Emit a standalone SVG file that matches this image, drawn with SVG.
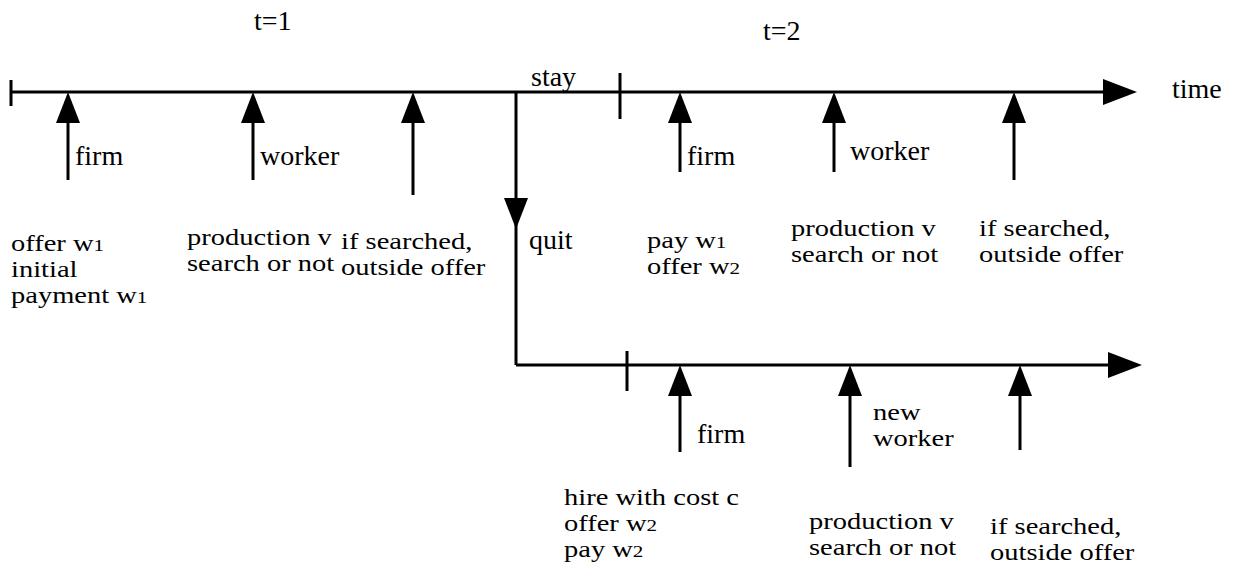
<svg xmlns="http://www.w3.org/2000/svg" width="1233" height="568" viewBox="0 0 1233 568">
<style>
.ln{stroke:#000;stroke-width:3;fill:none}
.ah{fill:#000;stroke:none}
text{font-family:"Liberation Serif","Times New Roman",serif;font-size:28px;fill:#000}
.m{font-size:23px}
.s{font-size:17px}
.s2{font-size:20px}
</style>
<defs>
<path id="up" class="ah" d="M0,0 L12,31 L-12,31 Z"/>
</defs>
<rect width="1233" height="568" fill="#fff"/>
<g id="connectors">
<line class="ln" x1="11" y1="92" x2="1106" y2="92"/>
<polygon class="ah" points="1103,79 1137,92 1103,105"/>
<line class="ln" x1="11" y1="80" x2="11" y2="106"/>
<line class="ln" x1="620" y1="73" x2="620" y2="119"/>
<line class="ln" x1="516" y1="92" x2="516" y2="365"/>
<polygon class="ah" points="504,198 528,198 516,229"/>
<line class="ln" x1="516" y1="365" x2="1110" y2="365"/>
<polygon class="ah" points="1108,352 1142,365 1108,378"/>
<line class="ln" x1="627" y1="351" x2="627" y2="391"/>
</g>
<g id="t1-firm"><use href="#up" x="68" y="92"/><line class="ln" x1="68" y1="118" x2="68" y2="180"/>
<text x="75" y="165">firm</text>
<text class="m" transform="translate(11,251) scale(1.24,1)" x="0" y="0">offer w<tspan class="s">1</tspan><tspan x="0" dy="26">initial</tspan><tspan x="0" dy="26">payment w</tspan><tspan class="s">1</tspan></text></g>
<g id="t1-worker"><use href="#up" x="253" y="92"/><line class="ln" x1="253" y1="118" x2="253" y2="180"/>
<text x="260" y="165">worker</text>
<text class="m" transform="translate(187,245) scale(1.24,1)" x="0" y="0">production v<tspan x="0" dy="26">search or not</tspan></text></g>
<g id="t1-offer"><use href="#up" x="413" y="92"/><line class="ln" x1="413" y1="118" x2="413" y2="195"/>
<text class="m" transform="translate(341,249) scale(1.24,1)" x="0" y="0">if searched,<tspan x="0" dy="26">outside offer</tspan></text></g>
<g id="labels">
<text x="254" y="30">t=1</text>
<text x="763" y="40">t=2</text>
<text x="531" y="86">stay</text>
<text x="529" y="249">quit</text>
<text x="1172" y="98">time</text>
</g>
<g id="t2-firm"><use href="#up" x="680" y="92"/><line class="ln" x1="680" y1="118" x2="680" y2="172"/>
<text x="687" y="165">firm</text>
<text class="m" transform="translate(647,248) scale(1.24,1)" x="0" y="0">pay w<tspan class="s">1</tspan><tspan x="0" dy="26">offer w</tspan><tspan class="s">2</tspan></text></g>
<g id="t2-worker"><use href="#up" x="834" y="92"/><line class="ln" x1="834" y1="118" x2="834" y2="172"/>
<text x="850" y="160">worker</text>
<text class="m" transform="translate(791,236) scale(1.24,1)" x="0" y="0">production v<tspan x="0" dy="26">search or not</tspan></text></g>
<g id="t2-offer"><use href="#up" x="1014" y="92"/><line class="ln" x1="1014" y1="118" x2="1014" y2="180"/>
<text class="m" transform="translate(979,236) scale(1.24,1)" x="0" y="0">if searched,<tspan x="0" dy="26">outside offer</tspan></text></g>
<g id="q-firm"><use href="#up" x="680" y="365"/><line class="ln" x1="680" y1="391" x2="680" y2="452"/>
<text x="697" y="443">firm</text>
<text class="m" transform="translate(564,505) scale(1.24,1)" x="0" y="0">hire with cost c<tspan x="0" dy="26">offer w</tspan><tspan class="s">2</tspan><tspan x="0" dy="26">pay w</tspan><tspan class="s">2</tspan></text></g>
<g id="q-worker"><use href="#up" x="850" y="365"/><line class="ln" x1="850" y1="391" x2="850" y2="467"/>
<text class="m" transform="translate(873,420) scale(1.24,1)" x="0" y="0">new<tspan x="0" dy="26">worker</tspan></text>
<text class="m" transform="translate(809,529) scale(1.24,1)" x="0" y="0">production v<tspan x="0" dy="26">search or not</tspan></text></g>
<g id="q-offer"><use href="#up" x="1020" y="365"/><line class="ln" x1="1020" y1="391" x2="1020" y2="450"/>
<text class="m" transform="translate(990,534) scale(1.24,1)" x="0" y="0">if searched,<tspan x="0" dy="26">outside offer</tspan></text></g>
</svg>
